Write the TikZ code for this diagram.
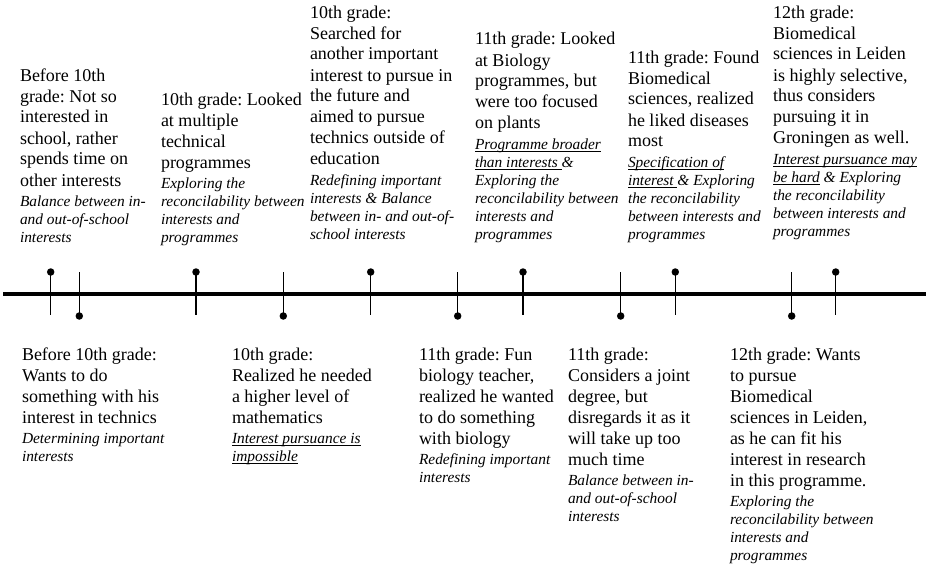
\documentclass[tikz,border=0pt]{standalone}
\usepackage{fontspec}
\setmainfont{Liberation Serif}
\frenchspacing
\newcommand\ulx[1]{\leavevmode\setbox0\hbox{#1}\rlap{\rule[-2.6pt]{\wd0}{0.75pt}}\box0\relax}
\newcommand\evblock[2]{\parbox[t]{220pt}{\raggedright\frenchspacing\fontsize{18}{21}\selectfont #1\par\vspace{2.5pt}\fontsize{15.4}{18}\selectfont\itshape #2\par}}
\tikzset{
  evt/.style={anchor=base west, inner sep=0pt, outer sep=0pt},
  dot/.style={circle, fill=black, inner sep=0pt, minimum size=7.5pt},
  tickline/.style={line width=1.3pt},
  axisline/.style={line width=3.3pt}
}
\begin{document}
\begin{tikzpicture}[x=1pt,y=-1pt]
\useasboundingbox (0,0) rectangle (930,570);
% axis
\coordinate (axL) at (3,294);
\coordinate (axR) at (926,294);
\draw[axisline] (axL) -- (axR);
% ticks with dot on top
\foreach \n/\x in {u1/50.7,u2/196,u3/370.7,u4/523,u5/675.3,u6/835.7}{
  \node[dot] (\n) at (\x,272) {};
  \coordinate (\n e) at (\x,315);
  \draw[tickline] (\n.center) -- (\n e);
}
% ticks with dot at bottom
\foreach \n/\x in {l1/79.3,l2/283.3,l3/457.7,l4/620.7,l5/791.7}{
  \node[dot] (\n) at (\x,316) {};
  \coordinate (\n e) at (\x,272);
  \draw[tickline] (\n.center) -- (\n e);
}
% upper texts
\node[evt] (tu1) at (20,81) {\evblock{Before 10th\\grade: Not so\\interested in\\school, rather\\spends time on\\other interests}{Balance between in-\\and out-of-school\\interests}};
\node[evt] (tu2) at (161,105) {\evblock{10th grade: Looked\\at multiple\\technical\\programmes}{Exploring the\\reconcilability between\\interests and\\programmes}};
\node[evt] (tu3) at (310,18) {\evblock{10th grade:\\Searched for\\another important\\interest to pursue in\\the future and\\aimed to pursue\\technics outside of\\education}{Redefining important\\interests \& Balance\\between in- and out-of-\\school interests}};
\node[evt] (tu4) at (475,45) {\evblock{11th grade: Looked\\at Biology\\programmes, but\\were too focused\\on plants}{\ulx{Programme broader}\\\ulx{than interests }\&\\Exploring the\\reconcilability between\\interests and\\programmes}};
\node[evt] (tu5) at (628,63) {\evblock{11th grade: Found\\Biomedical\\sciences, realized\\he liked diseases\\most}{\ulx{Specification of}\\\ulx{interest }\& Exploring\\the reconcilability\\between interests and\\programmes}};
\node[evt] (tu6) at (773,18) {\evblock{12th grade:\\Biomedical\\sciences in Leiden\\is highly selective,\\thus considers\\pursuing it in\\Groningen as well.}{\ulx{Interest pursuance may}\\\ulx{be hard} \& Exploring\\the reconcilability\\between interests and\\programmes}};
% lower texts
\node[evt] (tl1) at (22,360) {\evblock{Before 10th grade:\\Wants to do\\something with his\\interest in technics}{Determining important\\interests}};
\node[evt] (tl2) at (232,360) {\evblock{10th grade:\\Realized he needed\\a higher level of\\mathematics}{\ulx{Interest pursuance is}\\\ulx{impossible}}};
\node[evt] (tl3) at (419,360) {\evblock{11th grade: Fun\\biology teacher,\\realized he wanted\\to do something\\with biology}{Redefining important\\interests}};
\node[evt] (tl4) at (568,360) {\evblock{11th grade:\\Considers a joint\\degree, but\\disregards it as it\\will take up too\\much time}{Balance between in-\\and out-of-school\\interests}};
\node[evt] (tl5) at (730,360) {\evblock{12th grade: Wants\\to pursue\\Biomedical\\sciences in Leiden,\\as he can fit his\\interest in research\\in this programme.}{Exploring the\\reconcilability between\\interests and\\programmes}};
\end{tikzpicture}
\end{document}
